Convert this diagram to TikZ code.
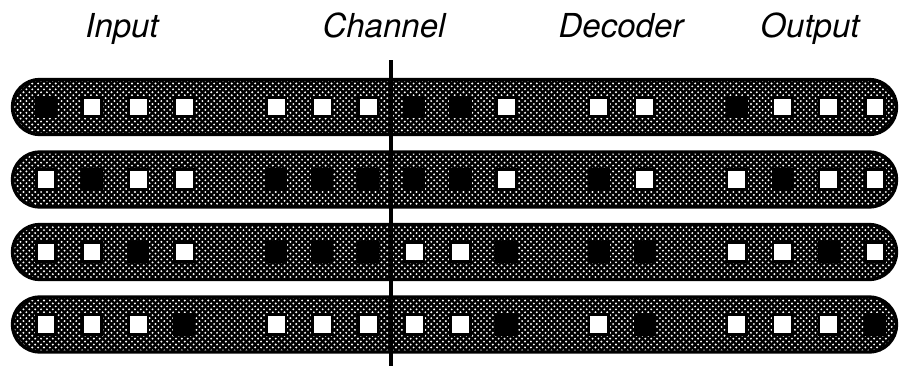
\documentclass[tikz,border=0pt]{standalone}
\usepackage{fontspec}
\setsansfont{TeX Gyre Heros}
\usetikzlibrary{patterns}

% halftone screen of the bars: white dots on black
\pgfdeclarepatternformonly{halftone}{\pgfqpoint{-1pt}{-1pt}}{\pgfqpoint{5.5pt}{5.5pt}}{\pgfqpoint{4.4pt}{4.4pt}}{%
  \pgfpathcircle{\pgfqpoint{0pt}{0pt}}{0.8pt}%
  \pgfpathcircle{\pgfqpoint{2.2pt}{2.2pt}}{0.8pt}%
  \pgfusepath{fill}}

\begin{document}
\begin{tikzpicture}[x=0.75pt, y=-0.75pt,
  bar/.style={rectangle, draw=black, line width=2.6pt, rounded corners=20.6pt, minimum width=663pt, minimum height=41.25pt,
              preaction={fill=black}, pattern=halftone, pattern color=white},
  sq/.style={rectangle, draw=black, line width=2pt, minimum size=14.6pt, inner sep=0pt},
  zero/.style={sq, fill=white},
  one/.style={sq, fill=black},
  lab/.style={anchor=base, font=\sffamily\itshape\fontsize{24.75}{30}\selectfont}]
\useasboundingbox (0,0) rectangle (899,368);

% ---------------- column heads
\node[lab] (lin) at (122,37) {Input};
\node[lab] (lch) at (384,37) {Channel};
\node[lab] (ldec) at (621,37) {Decoder};
\node[lab] (lout) at (810,37) {Output};

% ---------------- the four code words
\node[bar] (bar1) at (454.5,107) {};
\node[bar] (bar2) at (454.5,179.5) {};
\node[bar] (bar3) at (454.5,252) {};
\node[bar] (bar4) at (454.5,324.5) {};

\foreach \s/\b in {0/one,1/zero,2/zero,3/zero,5/zero,6/zero,7/zero,8/one,9/one,10/zero,12/zero,13/zero,15/one,16/zero,17/zero,18/zero}
  \node[\b] (r1c\s) at (46+46.05*\s,107) {};
\foreach \s/\b in {0/zero,1/one,2/zero,3/zero,5/one,6/one,7/one,8/one,9/one,10/zero,12/one,13/zero,15/zero,16/one,17/zero,18/zero}
  \node[\b] (r2c\s) at (46+46.05*\s,179.5) {};
\foreach \s/\b in {0/zero,1/zero,2/one,3/zero,5/one,6/one,7/one,8/zero,9/zero,10/one,12/one,13/one,15/zero,16/zero,17/one,18/zero}
  \node[\b] (r3c\s) at (46+46.05*\s,252) {};
\foreach \s/\b in {0/zero,1/zero,2/zero,3/one,5/zero,6/zero,7/zero,8/zero,9/zero,10/one,12/zero,13/one,15/zero,16/zero,17/zero,18/one}
  \node[\b] (r4c\s) at (46+46.05*\s,324.5) {};

% ---------------- channel cut
\coordinate (ctop) at (391,60);
\coordinate (cbot) at (391,366);
\draw[line width=2.6pt] (ctop) -- (cbot);
\end{tikzpicture}
\end{document}
